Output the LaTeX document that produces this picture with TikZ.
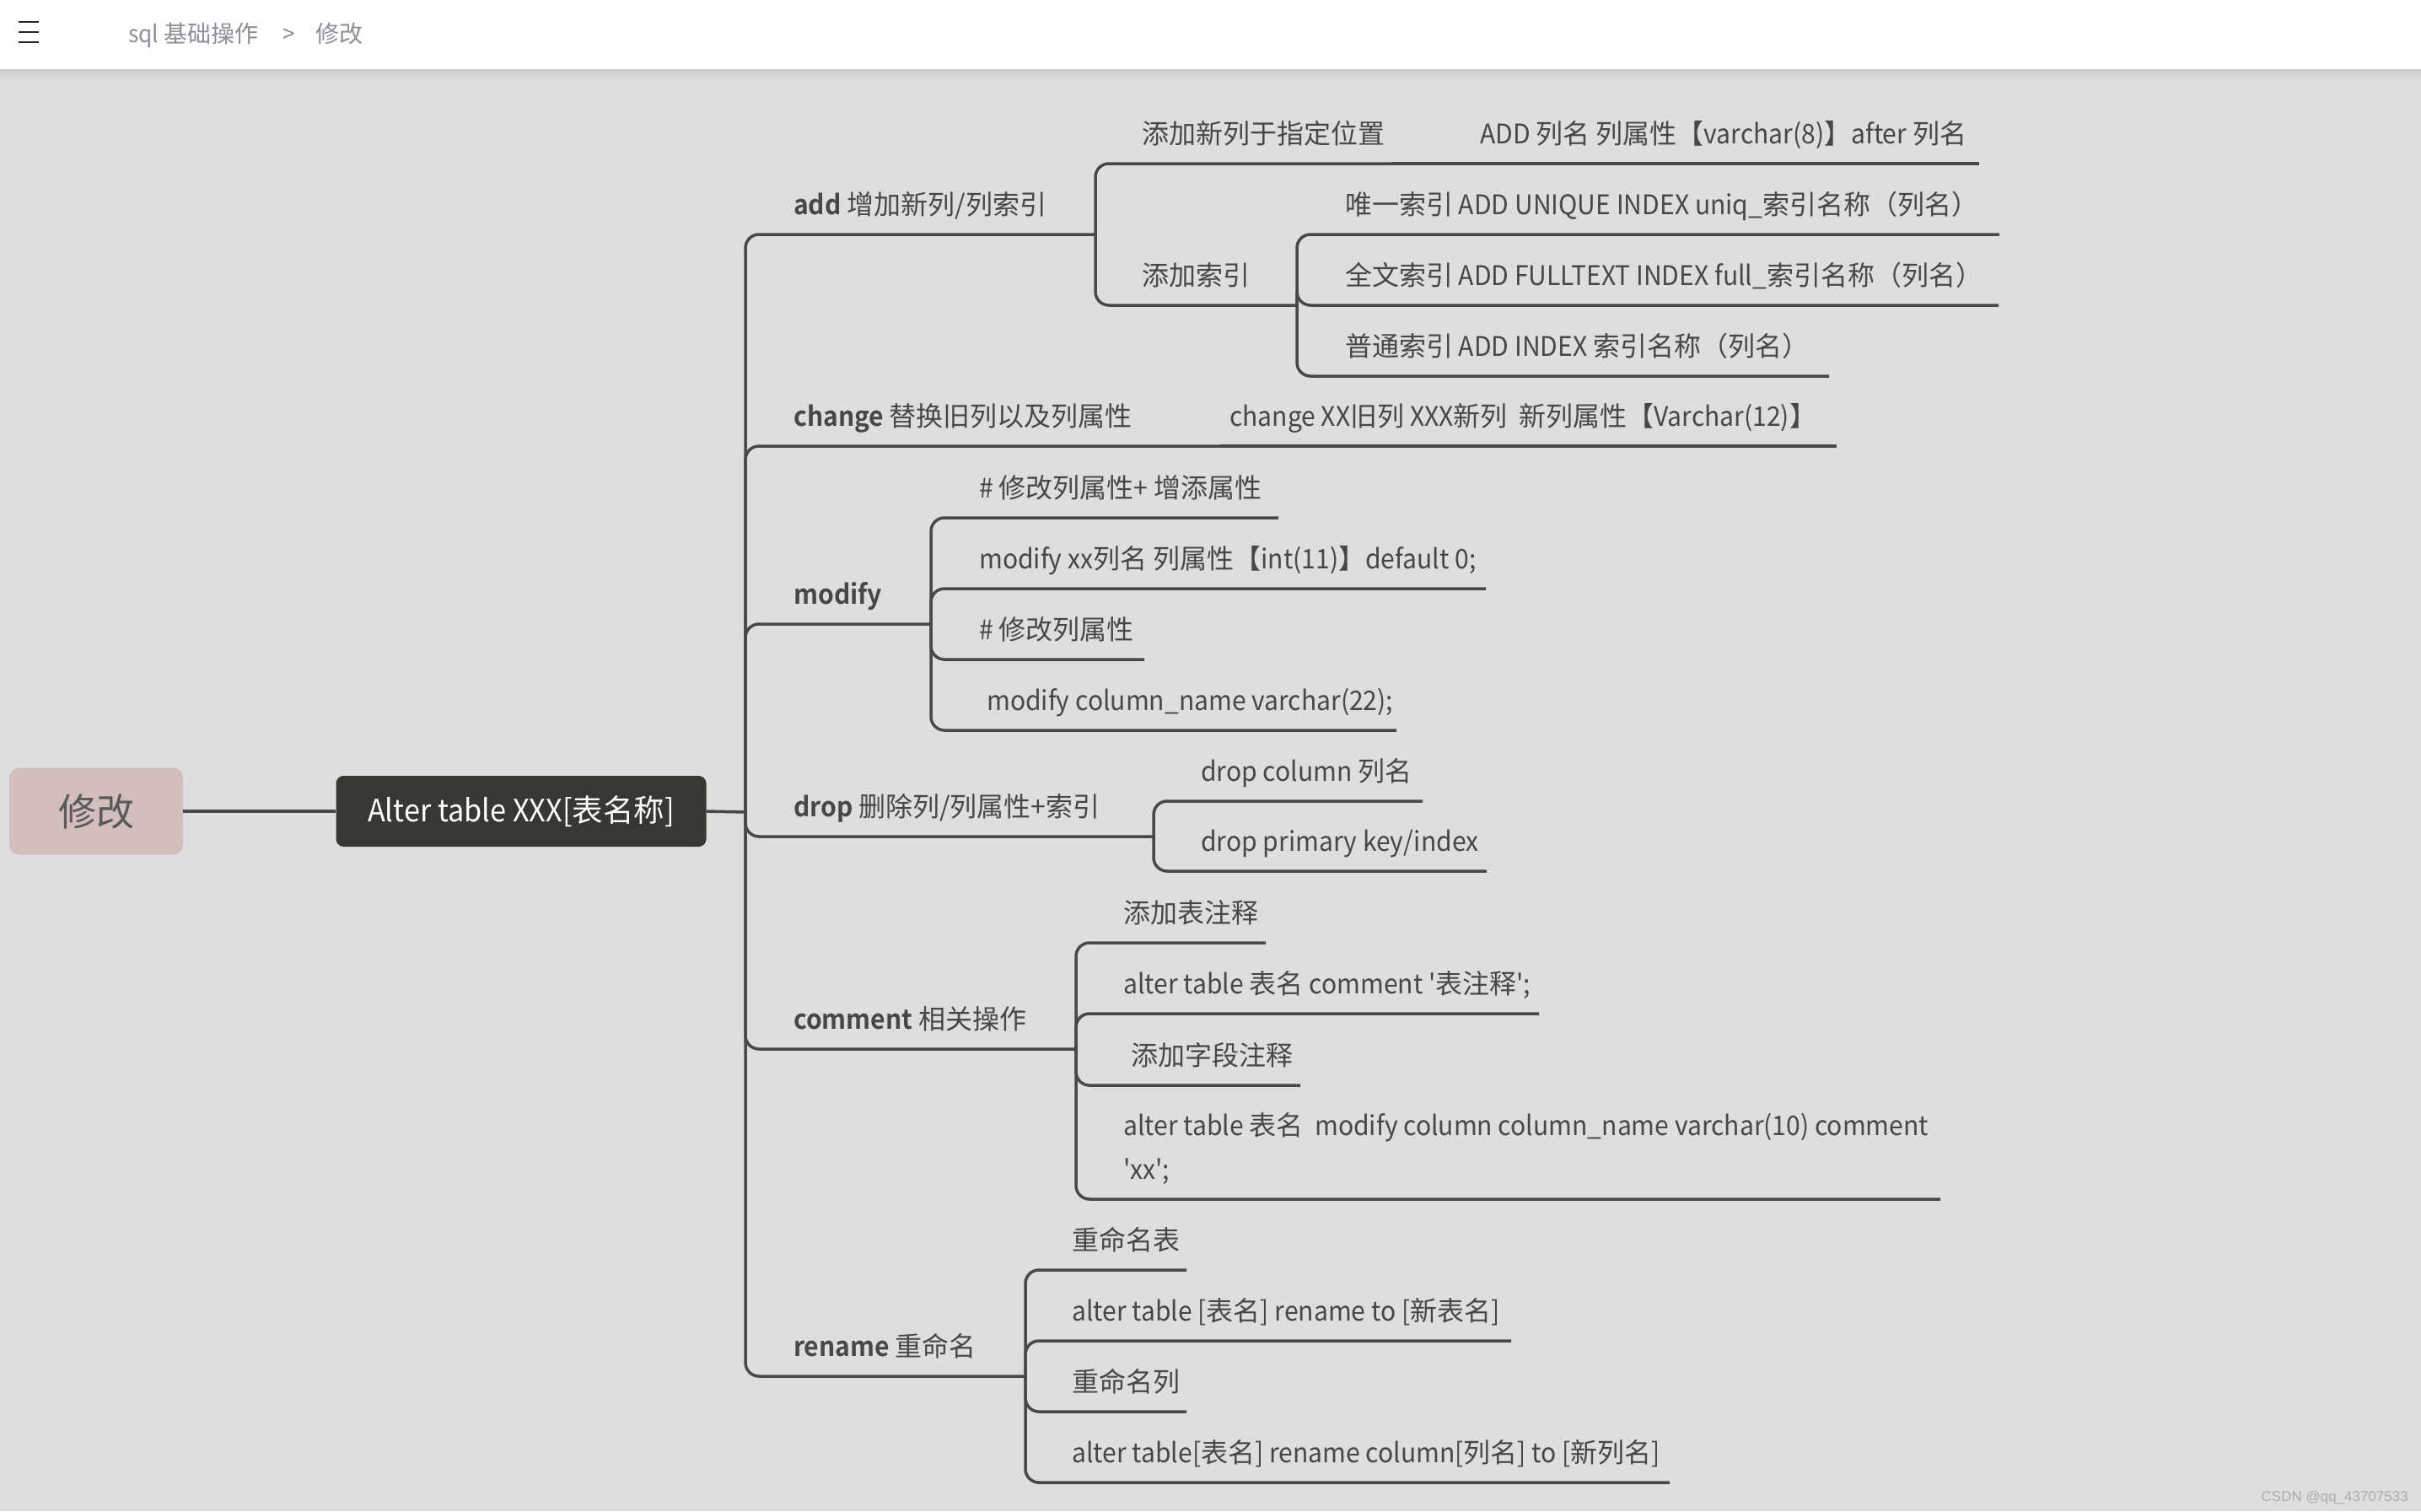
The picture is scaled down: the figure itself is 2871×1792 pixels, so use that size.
\documentclass[tikz,border=0pt]{standalone}
\usepackage{fontspec}
\newfontfamily\cjk{Noto Sans CJK SC}[BoldFont={Noto Sans CJK SC Bold}]
\newfontfamily\lat{Noto Sans CJK SC}[FakeStretch=0.94, BoldFont={Noto Sans CJK SC Bold}]
\newfontfamily\wmfont{Liberation Sans}
\newcommand\zh[1]{{\cjk #1}}
\definecolor{bg}{HTML}{DEDEDE}
\definecolor{lnc}{HTML}{48484A}
\definecolor{tx}{HTML}{474747}
\definecolor{rootfill}{HTML}{D4BEBD}
\definecolor{alterfill}{HTML}{383832}
\definecolor{crumb}{HTML}{8E8E98}
\definecolor{wmc}{HTML}{ABABAB}
\begin{document}
\begin{tikzpicture}[x=1pt,y=-1pt,
  txt/.style={anchor=base west, inner sep=0pt, text=tx, font=\lat\fontsize{32}{52}\selectfont},
  br/.style={draw=lnc, line width=3.5pt, rounded corners=16pt},
  rootbox/.style={fill=rootfill, rounded corners=12pt, minimum width=206pt, minimum height=103pt, inner sep=0pt, text=black!65, font=\cjk\fontsize{45}{54}\selectfont},
  alterbox/.style={fill=alterfill, rounded corners=9pt, minimum width=439pt, minimum height=84pt, inner sep=0pt, text=white, font=\lat\fontsize{36.5}{44}\selectfont},
  crumbtxt/.style={anchor=base west, inner sep=0pt, text=crumb, font=\lat\fontsize{28}{34}\selectfont}]
\useasboundingbox (0,0) rectangle (2871,1792);
\fill[bg] (0,0) rectangle (2871,1792);
% top bar
\shade[top color=black!20, bottom color=bg] (0,82) rectangle (2871,94);
\fill[white] (0,0) rectangle (2871,82);
\draw[line width=2.6pt, black!85] (22,26) -- (46,26) (22,38) -- (46,38) (22,50) -- (46,50);
\node[crumbtxt] (crumb1) at (152,50) {sql \zh{基础操作}};
\node[crumbtxt] (crumb2) at (335,50) {>};
\node[crumbtxt] (crumb3) at (374,50) {\zh{修改}};

% root nodes
\node[rootbox] (root) at (114,962) {修改};
\node[alterbox] (alter) at (618,962) {Alter table XXX[\zh{表名称}]};
\coordinate (hub0) at (884,963);
\draw[br] (root.east) -- (alter.west);
\draw[br] (alter.east) -- (hub0);

% ---------- add ----------
\coordinate (addhub) at (1299,278);
\draw[br] (hub0) |- (addhub);
\node[txt] (add) at (941,254) {\textbf{add} \zh{增加新列/列索引}};
\coordinate (pos-j) at (1651,194);
\coordinate (pos-e) at (2347,194);
\draw[br] (addhub) |- (pos-j);
\draw[br] (pos-j) -- (pos-e);
\node[txt] (pos) at (1354,170) {\zh{添加新列于指定位置}};
\node[txt] (posc) at (1755,170) {ADD \zh{列名 列属性【}varchar(8)\zh{】}after \zh{列名}};
\coordinate (idxhub) at (1538,362);
\draw[br] (addhub) |- (idxhub);
\node[txt] (idx) at (1354,338) {\zh{添加索引}};
\coordinate (uni-e) at (2371,278);
\coordinate (full-e) at (2370,362);
\coordinate (norm-e) at (2169,446);
\draw[br] (idxhub) |- (uni-e);
\draw[br] (idxhub) |- (full-e);
\draw[br] (idxhub) |- (norm-e);
\node[txt] (uni) at (1595,254) {\zh{唯一索引} ADD UNIQUE INDEX uniq\_\zh{索引名称（列名）}};
\node[txt] (full) at (1595,338) {\zh{全文索引} ADD FULLTEXT INDEX full\_\zh{索引名称（列名）}};
\node[txt] (norm) at (1595,422) {\zh{普通索引} ADD INDEX \zh{索引名称（列名）}};

% ---------- change ----------
\coordinate (chg-j) at (1447,529);
\coordinate (chg-e) at (2178,529);
\draw[br] (hub0) |- (chg-j);
\draw[br] (chg-j) -- (chg-e);
\node[txt] (chg) at (941,505) {\textbf{change} \zh{替换旧列以及列属性}};
\node[txt] (chgc) at (1458,505) {change XX\zh{旧列} XXX\zh{新列}\ \ \zh{新列属性【}Varchar(12)\zh{】}};

% ---------- modify ----------
\coordinate (modhub) at (1104,740);
\draw[br] (hub0) |- (modhub);
\node[txt] (mod) at (941,716) {\textbf{modify}};
\coordinate (m1-e) at (1516,614);
\coordinate (m2-e) at (1762,698);
\coordinate (m3-e) at (1357,782);
\coordinate (m4-e) at (1656,866);
\draw[br] (modhub) |- (m1-e);
\draw[br] (modhub) |- (m2-e);
\draw[br] (modhub) |- (m3-e);
\draw[br] (modhub) |- (m4-e);
\node[txt] (m1) at (1161,590) {\# \zh{修改列属性}+ \zh{增添属性}};
\node[txt] (m2) at (1161,674) {modify xx\zh{列名 列属性【}int(11)\zh{】}default 0;};
\node[txt] (m3) at (1161,758) {\# \zh{修改列属性}};
\node[txt] (m4) at (1170,842) {modify column\_name varchar(22);};

% ---------- drop ----------
\coordinate (drophub) at (1368,992);
\draw[br] (hub0) |- (drophub);
\node[txt] (drop) at (941,968) {\textbf{drop} \zh{删除列/列属性+索引}};
\coordinate (d1-e) at (1687,950);
\coordinate (d2-e) at (1763,1033);
\draw[br] (drophub) |- (d1-e);
\draw[br] (drophub) |- (d2-e);
\node[txt] (d1) at (1424,926) {drop column \zh{列名}};
\node[txt] (d2) at (1424,1009) {drop primary key/index};

% ---------- comment ----------
\coordinate (comhub) at (1276,1244);
\draw[br] (hub0) |- (comhub);
\node[txt] (com) at (941,1220) {\textbf{comment} \zh{相关操作}};
\coordinate (c1-e) at (1501,1118);
\coordinate (c2-e) at (1825,1202);
\coordinate (c3-e) at (1542,1287);
\coordinate (c4-e) at (2301,1422);
\draw[br] (comhub) |- (c1-e);
\draw[br] (comhub) |- (c2-e);
\draw[br] (comhub) |- (c3-e);
\draw[br] (comhub) |- (c4-e);
\node[txt] (c1) at (1332,1094) {\zh{添加表注释}};
\node[txt] (c2) at (1332,1178) {alter table \zh{表名} comment '\zh{表注释}';};
\node[txt] (c3) at (1341,1263) {\zh{添加字段注释}};
\node[txt] (c4) at (1332,1346) {alter table \zh{表名}\ \ modify column column\_name varchar(10) comment};
\node[txt] (c4b) at (1332,1398) {'xx';};

% ---------- rename ----------
\coordinate (renhub) at (1216,1632);
\draw[br] (hub0) |- (renhub);
\node[txt] (ren) at (941,1608) {\textbf{rename} \zh{重命名}};
\coordinate (r1-e) at (1407,1506);
\coordinate (r2-e) at (1792,1590);
\coordinate (r3-e) at (1407,1674);
\coordinate (r4-e) at (1980,1758);
\draw[br] (renhub) |- (r1-e);
\draw[br] (renhub) |- (r2-e);
\draw[br] (renhub) |- (r3-e);
\draw[br] (renhub) |- (r4-e);
\node[txt] (r1) at (1271,1482) {\zh{重命名表}};
\node[txt] (r2) at (1271,1566) {alter table [\zh{表名}] rename to [\zh{新表名}]};
\node[txt] (r3) at (1271,1650) {\zh{重命名列}};
\node[txt] (r4) at (1271,1734) {alter table[\zh{表名}] rename column[\zh{列名}] to [\zh{新列名}]};

% watermark
\node[anchor=base east, inner sep=0pt, text=wmc, font=\wmfont\fontsize{17}{20}\selectfont] (wm) at (2856,1780) {CSDN @qq\_43707533};
\end{tikzpicture}
\end{document}
